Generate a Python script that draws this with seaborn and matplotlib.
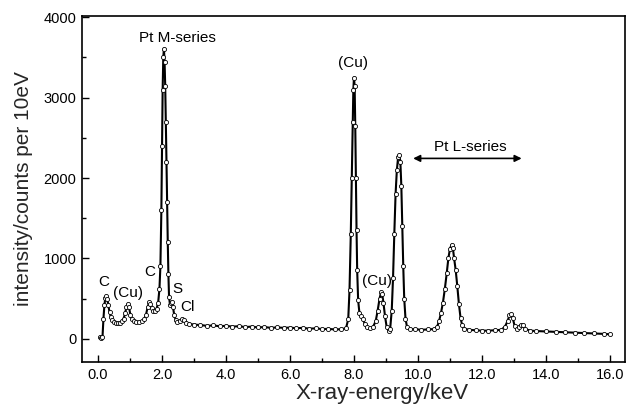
import matplotlib
matplotlib.use("Agg")
import matplotlib.pyplot as plt
from matplotlib.ticker import MultipleLocator, FormatStrFormatter
import seaborn as sns
import pandas as pd

# EDX spectrum (keV, counts per 10 eV)
energy_kev = [
    0.05, 0.10, 0.14, 0.17, 0.20, 0.23, 0.26, 0.29, 0.32, 0.36, 0.40, 0.45, 0.50,
    0.56, 0.62, 0.68, 0.74, 0.80, 0.85, 0.89, 0.93, 0.97, 1.01, 1.06, 1.12, 1.20,
    1.28, 1.36, 1.44, 1.50, 1.55, 1.60, 1.64, 1.68, 1.73, 1.78, 1.83, 1.88, 1.92,
    1.95, 1.98, 2.00, 2.02, 2.04, 2.06, 2.08, 2.10, 2.12, 2.14, 2.16, 2.18, 2.20,
    2.22, 2.25, 2.28, 2.31, 2.34, 2.38, 2.43, 2.48, 2.55, 2.62, 2.68, 2.75, 2.85,
    3.0, 3.2, 3.4, 3.6, 3.8, 4.0, 4.2, 4.4, 4.6, 4.8, 5.0, 5.2, 5.4, 5.6, 5.8,
    6.0, 6.2, 6.4, 6.6, 6.8, 7.0, 7.2, 7.4, 7.6, 7.75,
    7.82, 7.86, 7.90, 7.93, 7.96, 7.98, 8.00, 8.02, 8.04, 8.06, 8.08, 8.10, 8.13,
    8.17, 8.22, 8.28, 8.34, 8.40, 8.50, 8.60, 8.68, 8.74, 8.80, 8.85, 8.88, 8.92,
    8.97, 9.02, 9.08, 9.13, 9.18, 9.22, 9.26, 9.30, 9.34, 9.38, 9.42, 9.45, 9.48,
    9.51, 9.54, 9.57, 9.61, 9.66, 9.75, 9.9, 10.1, 10.3, 10.5, 10.6,
    10.66, 10.72, 10.78, 10.84, 10.90, 10.95, 11.00, 11.05, 11.09, 11.13, 11.18,
    11.23, 11.28, 11.33, 11.38, 11.45, 11.6, 11.8, 12.0, 12.2, 12.4, 12.6, 12.72,
    12.80, 12.86, 12.91, 12.96, 13.02, 13.08, 13.15, 13.22, 13.28, 13.36, 13.5,
    13.7, 14.0, 14.3, 14.6, 14.9, 15.2, 15.5, 15.8, 16.0,
]
counts = [
    15, 10, 20, 250, 420, 510, 535, 500, 420, 330, 270, 230, 210,
    195, 190, 200, 215, 250, 320, 400, 435, 390, 300, 240, 215, 205,
    210, 215, 240, 300, 390, 455, 430, 380, 350, 340, 370, 450, 620,
    900, 1600, 2400, 3100, 3500, 3610, 3450, 3150, 2700, 2200, 1700, 1200, 800,
    520, 420, 450, 460, 400, 300, 230, 210, 225, 240, 230, 200, 185,
    175, 170, 160, 165, 155, 160, 150, 155, 145, 150, 140, 145, 135, 140, 135,
    138, 130, 135, 125, 128, 120, 122, 115, 118, 130,
    240, 600, 1300, 2000, 2700, 3100, 3250, 3150, 2650, 2000, 1350, 850, 480,
    320, 280, 250, 180, 140, 130, 150, 220, 350, 500, 585, 560, 450,
    280, 150, 95, 120, 350, 750, 1300, 1800, 2100, 2260, 2290, 2200, 1900,
    1400, 900, 500, 250, 140, 115, 120, 110, 115, 120, 150,
    220, 320, 450, 620, 820, 1000, 1120, 1170, 1130, 1000, 850,
    650, 430, 260, 170, 125, 110, 105, 100, 100, 105, 110, 150,
    220, 290, 310, 260, 160, 120, 150, 175, 165, 120, 100,
    95, 90, 85, 80, 75, 70, 65, 60, 55,
]

# peak labels: text, x (keV), y (counts)
peak_labels = ["C", "(Cu)", "C", "Pt M-series", "S", "Cl", "(Cu)", "(Cu)", "Pt L-series"]
label_x = [0.19, 0.95, 1.63, 2.47, 2.49, 2.79, 7.98, 8.71, 11.63]
label_y = [711, 567, 836, 3740, 617, 394, 3433, 712, 2389]

df = pd.DataFrame({"energy": energy_kev, "counts": counts})

sns.set_theme(style="ticks")
plt.rcParams["font.family"] = ["Liberation Sans", "DejaVu Sans"]

fig = plt.figure(figsize=(6.28, 4.05), dpi=100)
ax = fig.add_axes([0.1306, 0.1062, 0.8646, 0.855])

sns.lineplot(data=df, x="energy", y="counts", ax=ax, color="black", lw=1.5,
             marker="o", markersize=3, markerfacecolor="white",
             markeredgecolor="black", markeredgewidth=0.6)

for txt, lx, ly in zip(peak_labels, label_x, label_y):
    ax.text(lx, ly, txt, ha="center", va="center", fontsize=11, color="black")

# double-headed arrow under the Pt L-series label
ax.annotate("", xy=(9.85, 2244), xytext=(13.24, 2244),
            arrowprops=dict(arrowstyle="<|-|>", color="black", lw=1.2,
                            mutation_scale=10, shrinkA=0, shrinkB=0))

ax.set_xlim(-0.5, 16.47)
ax.set_ylim(-290, 4020)
ax.xaxis.set_major_locator(MultipleLocator(2))
ax.xaxis.set_minor_locator(MultipleLocator(1))
ax.xaxis.set_major_formatter(FormatStrFormatter("%.1f"))
ax.set_yticks([0, 1000, 2000, 3000, 4000])
ax.yaxis.set_minor_locator(MultipleLocator(500))
ax.tick_params(which="both", direction="in", top=False, right=False,
               labelsize=10.5, color="black", labelcolor="black", width=1)
ax.tick_params(which="major", length=5, pad=4)
ax.tick_params(which="minor", length=3)
for s in ax.spines.values():
    s.set_visible(True)
    s.set_linewidth(1.2)
    s.set_color("black")

ax.set_xlabel("X-ray-energy/keV", fontsize=16)
ax.set_ylabel("intensity/counts per 10eV", fontsize=15)
ax.xaxis.set_label_coords(0.553, -0.06)
ax.yaxis.set_label_coords(-0.09, 0.5)

fig.savefig("out.png", dpi=100)
